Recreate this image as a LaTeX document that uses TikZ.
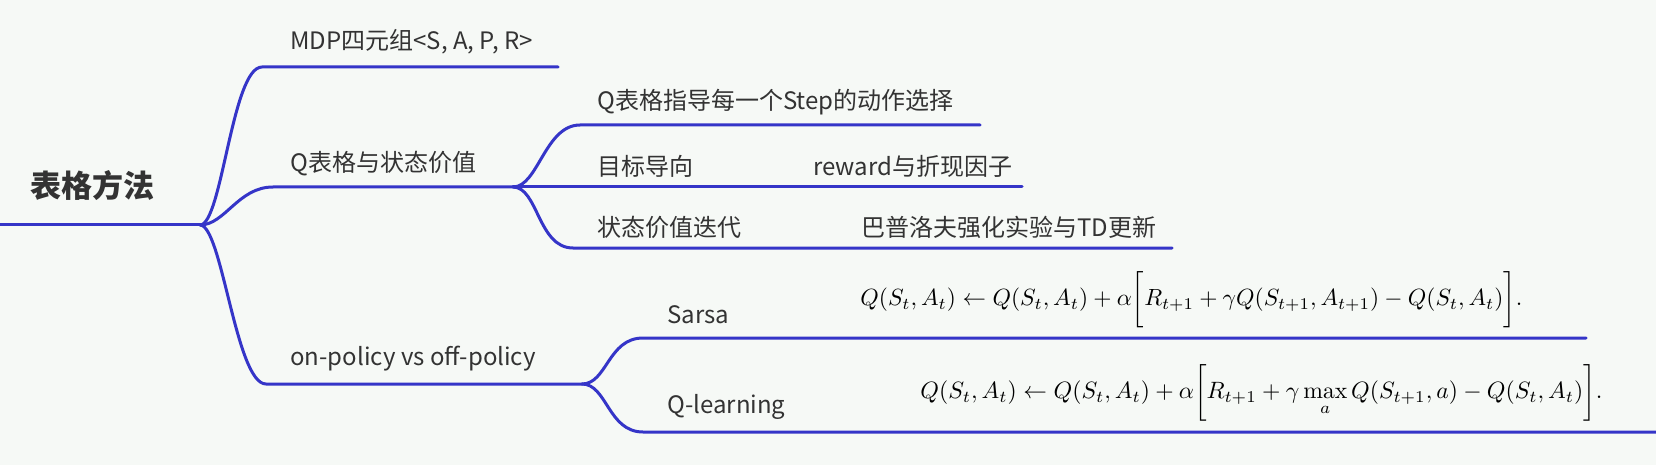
\documentclass[tikz,border=0pt]{standalone}
\usepackage{amsmath}
\usepackage{graphicx}
\usepackage[no-math]{fontspec}
\setmainfont{Noto Sans CJK SC}
\definecolor{bgc}{HTML}{F6F9F6}
\definecolor{linec}{HTML}{3535C8}
\definecolor{txtc}{HTML}{333333}
\tikzset{
  br/.style={draw=linec, line width=1.5pt, line cap=round},
  lbl/.style={anchor=west, inner sep=0pt, text=txtc, font=\fontsize{12pt}{14pt}\selectfont},
  rootlbl/.style={anchor=west, inner sep=0pt, text=txtc, font=\fontsize{15.5pt}{18pt}\selectfont\bfseries},
  fml/.style={anchor=west, inner sep=0pt, text=black}
}
\begin{document}
\begin{tikzpicture}[x=0.5pt,y=-0.5pt]
\fill[bgc] (0,0) rectangle (1656,465);
\useasboundingbox (0,0) rectangle (1656,465);

% coordinates
\coordinate (r0) at (0,225);
\coordinate (j0) at (200,225);
\coordinate (b1) at (262,67);   \coordinate (e1) at (558,67);
\coordinate (b2) at (273,187);  \coordinate (j1) at (513,187);
\coordinate (b3) at (266,384);  \coordinate (j2) at (582,384);
\coordinate (c1) at (580,125);  \coordinate (f1) at (980,125);
\coordinate (f2) at (1022,187);
\coordinate (c3) at (573,248);  \coordinate (f3) at (1172,248);
\coordinate (d1) at (643,338);  \coordinate (g1) at (1586,338);
\coordinate (d2) at (643,432);  \coordinate (g2) at (1656,432);

% labels
\node[rootlbl] (root) at (30,186) {表格方法};
\node[lbl] (mdp) at (290,42) {MDP四元组<S, A, P, R>};
\node[lbl] (qtab) at (290,164) {Q表格与状态价值};
\node[lbl] (onp) at (290,359) {on-policy vs off-policy};
\node[lbl] (qstep) at (597,102) {Q表格指导每一个Step的动作选择};
\node[lbl] (goal) at (597,166) {目标导向};
\node[lbl] (rew) at (813,166) {reward与折现因子};
\node[lbl] (iter) at (597,227) {状态价值迭代};
\node[lbl] (pav) at (861,227) {巴普洛夫强化实验与TD更新};
\node[lbl] (sarsa) at (667,315) {Sarsa};
\node[lbl] (ql) at (667,407) {Q-learning};
\node[fml] (fs) at (860,300) {\resizebox{331pt}{!}{$Q(S_t,A_t)\leftarrow Q(S_t,A_t)+\alpha\bigg[R_{t+1}+\gamma Q(S_{t+1},A_{t+1})-Q(S_t,A_t)\bigg].$}};
\node[fml] (fq) at (920,393) {\resizebox{341pt}{!}{$\displaystyle Q(S_t,A_t)\leftarrow Q(S_t,A_t)+\alpha\bigg[R_{t+1}+\gamma \max_a Q(S_{t+1},a)-Q(S_t,A_t)\bigg].$}};

% connectors
\draw[br] (r0) -- (j0);
\draw[br] (j0) .. controls +(22,0) and +(-30,0) .. (b1) -- (e1);
\draw[br] (j0) .. controls +(25,0) and +(-35,0) .. (b2) -- (j1);
\draw[br] (j0) .. controls +(22,0) and +(-30,0) .. (b3) -- (j2);
\draw[br] (j1) .. controls +(25,0) and +(-35,0) .. (c1) -- (f1);
\draw[br] (j1) -- (f2);
\draw[br] (j1) .. controls +(25,0) and +(-35,0) .. (c3) -- (f3);
\draw[br] (j2) .. controls +(25,0) and +(-35,0) .. (d1) -- (g1);
\draw[br] (j2) .. controls +(25,0) and +(-35,0) .. (d2) -- (g2);
\end{tikzpicture}
\end{document}
